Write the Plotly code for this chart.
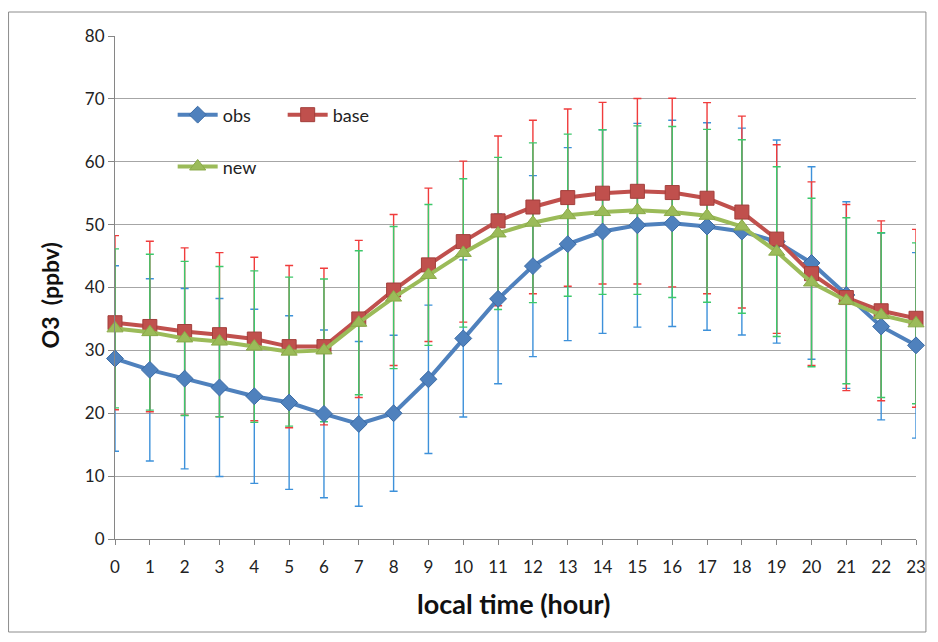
import plotly.graph_objects as go

hours = list(range(24))
obs = [28.7, 26.9, 25.5, 24.1, 22.7, 21.7, 19.9, 18.3, 20.0, 25.4, 31.9, 38.2,
       43.4, 46.9, 48.9, 49.9, 50.2, 49.7, 48.9, 47.3, 43.9, 38.8, 33.8, 30.8]
obs_sd = [14.75, 14.5, 14.35, 14.15, 13.85, 13.8, 13.35, 13.1, 12.4, 11.8, 12.5, 13.5,
          14.4, 15.35, 16.2, 16.2, 16.4, 16.5, 16.45, 16.15, 15.3, 14.85, 14.85, 14.75]
base = [34.4, 33.8, 33.0, 32.5, 31.8, 30.6, 30.6, 35.0, 39.6, 43.6, 47.3, 50.6,
        52.8, 54.3, 55.0, 55.3, 55.1, 54.2, 52.0, 47.7, 42.2, 38.4, 36.3, 35.1]
base_sd = [13.85, 13.55, 13.3, 13.05, 13.0, 12.9, 12.45, 12.5, 12.0, 12.2, 12.8, 13.5,
           13.8, 14.1, 14.45, 14.75, 15.0, 15.2, 15.25, 15.0, 14.6, 14.8, 14.3, 14.15]
new = [33.5, 32.9, 31.9, 31.4, 30.6, 29.8, 30.0, 34.4, 38.4, 42.0, 45.5, 48.6,
       50.3, 51.5, 52.0, 52.3, 52.0, 51.4, 49.7, 45.7, 40.8, 37.9, 35.6, 34.3]
new_sd = [12.65, 12.4, 12.25, 11.95, 12.05, 11.85, 11.35, 11.45, 11.3, 11.2, 11.8, 12.1,
          12.7, 12.9, 13.1, 13.4, 13.6, 13.75, 13.8, 13.5, 13.4, 13.2, 13.1, 12.8]

y_ticks = [0, 10, 20, 30, 40, 50, 60, 70, 80]

FONT = "Lato, Open Sans, sans-serif"

series = [
    dict(name="obs", y=obs, sd=obs_sd, color="#4F81BD", edge="#3A6BA5", err="#3D91DA",
         symbol="diamond", size=13, legend="legend"),
    dict(name="base", y=base, sd=base_sd, color="#C0504D", edge="#A33F3C", err="#F03C3C",
         symbol="square", size=14, legend="legend"),
    dict(name="new", y=new, sd=new_sd, color="#9BBB59", edge="#8AAA48", err="#3CC86A",
         symbol="triangle-up", size=14, legend="legend2"),
]

fig = go.Figure()

# error bars (behind lines)
for s in series:
    fig.add_trace(go.Scatter(
        x=hours, y=s["y"], mode="markers",
        marker=dict(size=1, color="rgba(0,0,0,0)"),
        error_y=dict(type="data", array=s["sd"], visible=True,
                     color=s["err"], thickness=1.4, width=4),
        showlegend=False, hoverinfo="skip", cliponaxis=False,
    ))

for s in series:
    fig.add_trace(go.Scatter(
        x=hours, y=s["y"], mode="lines+markers", name=s["name"],
        line=dict(color=s["color"], width=4),
        marker=dict(symbol=s["symbol"], size=s["size"], color=s["color"],
                    line=dict(color=s["edge"], width=1)),
        legend=s["legend"], cliponaxis=False,
    ))

fig.update_layout(
    width=938, height=642,
    margin=dict(l=115, r=18, t=36, b=103),
    paper_bgcolor="white", plot_bgcolor="white",
    font=dict(family=FONT, size=17, color="#222222"),
    showlegend=True,
    legend=dict(x=0.072, y=0.843, xanchor="left", yanchor="middle",
                orientation="h", bgcolor="rgba(0,0,0,0)",
                font=dict(family=FONT, size=18, color="#222222"),
                itemwidth=40, entrywidth=55, entrywidthmode="pixels",
                tracegroupgap=0),
    legend2=dict(x=0.072, y=0.740, xanchor="left", yanchor="middle",
                 orientation="h", bgcolor="rgba(0,0,0,0)",
                 font=dict(family=FONT, size=18, color="#222222"),
                 itemwidth=40),
    xaxis=dict(range=[0, 23], tickmode="array", tickvals=hours,
               ticktext=[str(h) for h in hours],
               showgrid=False, zeroline=False,
               showline=True, linecolor="#868686", linewidth=1,
               ticks="outside", ticklen=5, tickcolor="#868686",
               ticklabelstandoff=8,
               tickfont=dict(family=FONT, size=17, color="#222222")),
    yaxis=dict(range=[0, 80], tickmode="array", tickvals=y_ticks,
               showgrid=True, gridcolor="#A6A6A6", gridwidth=1,
               zeroline=False,
               showline=True, linecolor="#868686", linewidth=1,
               ticks="outside", ticklen=6, tickcolor="#868686",
               tickfont=dict(family=FONT, size=17, color="#222222")),
    annotations=[
        dict(text="<b>local time (hour)</b>", xref="paper", yref="paper",
             x=0.498, y=-0.129, xanchor="center", yanchor="middle",
             showarrow=False, font=dict(family=FONT, size=27, color="#111111")),
        dict(text="<b>O3\u00a0\u00a0(ppbv)</b>", xref="paper", yref="paper",
             x=-0.0807, y=0.485, xanchor="center", yanchor="middle",
             textangle=-90, showarrow=False,
             font=dict(family=FONT, size=23, color="#111111")),
    ],
    shapes=[dict(type="rect", xref="paper", yref="paper",
                 x0=-0.1329, x1=1.0124, y0=-0.1849, y1=1.0477,
                 line=dict(color="#8C8C8C", width=1), fillcolor="rgba(0,0,0,0)",
                 layer="below")],
)

fig.write_html("out.html", config={"displayModeBar": False},
               post_script="document.body.style.margin='0px';")
